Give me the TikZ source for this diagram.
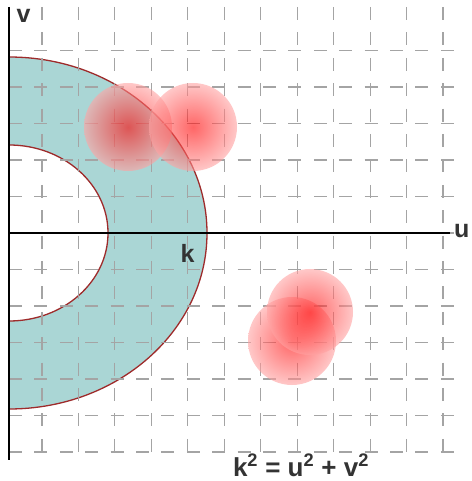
\documentclass[tikz,border=0pt]{standalone}
\usepackage{fontspec}
\setmainfont{Liberation Sans}
\usepackage{xcolor}
\definecolor{ringfill}{HTML}{AAD6D5}
\definecolor{ringedge}{HTML}{9E2B2B}
\definecolor{ink}{HTML}{333333}
\definecolor{gridgray}{HTML}{A4A4A4}
\begin{document}
\begin{tikzpicture}[x=1pt,y=1pt,
  gridline/.style={gridgray,line width=1.1pt,dash pattern=on 13pt off 12.4pt},
  axisline/.style={black,line width=2.2pt},
  blob/.style={shading=radial,inner color=red,outer color=red!36,opacity=0.6},
  lbl/.style={font=\fontsize{25}{30}\selectfont\bfseries,text=ink,inner sep=0pt}]
  \useasboundingbox (-9,-248) rectangle (462,233);
  \fill[ringfill,draw=ringedge,line width=1.3pt] (0,176) arc[start angle=90,end angle=-90,x radius=198,y radius=176]
    -- (0,-88) arc[start angle=-90,end angle=90,x radius=99,y radius=88] -- cycle;
  \foreach \i in {0,...,11} \draw[gridline] (33+36.45*\i,226) -- (33+36.45*\i,-222);
  \foreach \j in {-6,...,5} \draw[gridline] (0,36.5*\j) -- (451,36.5*\j);
  \draw[axisline] (0,226) -- (0,-227);
  \draw[axisline] (0,0) -- (441,0);
  \shade[blob] (119,106) circle[radius=44];
  \shade[blob] (184,106) circle[radius=44];
  \shade[blob] (283,-108) circle[radius=44];
  \shade[blob] (301,-79) circle[radius=43];
  \node[lbl,anchor=base] (vlbl) at (14.5,210) {v};
  \node[lbl,anchor=base west] (ulbl) at (445,-5) {u};
  \node[lbl,anchor=base] (klbl) at (178.5,-30) {k};
  \node[lbl,font=\fontsize{26}{30}\selectfont\bfseries,anchor=base] (eqn) at (292,-243)
    {k\textsuperscript{2} = u\textsuperscript{2} + v\textsuperscript{2}};
\end{tikzpicture}
\end{document}
